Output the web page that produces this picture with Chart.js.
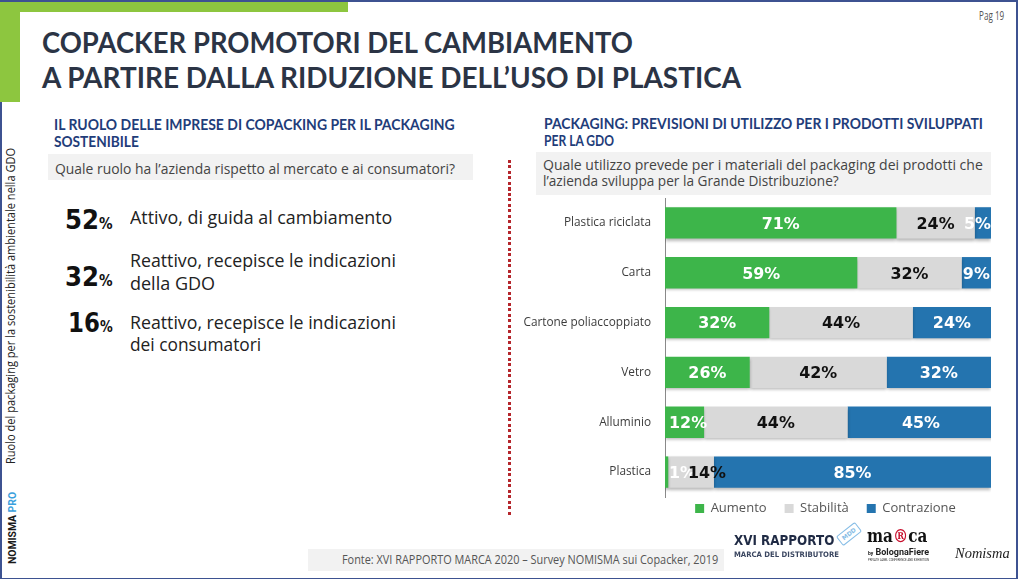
<!DOCTYPE html>
<html><head><meta charset="utf-8">
<script src="https://cdn.jsdelivr.net/npm/chart.js@4.4.1/dist/chart.umd.min.js"></script>
<style>
html,body{margin:0;padding:0;background:#fff;}
#page{position:relative;width:1024px;height:579px;overflow:hidden;background:#fff;}
.t{position:absolute;white-space:nowrap;line-height:1;transform-origin:0 0;}
.box{position:absolute;}
#c{position:absolute;left:512px;top:195px;}
</style></head><body>
<div id="page">
  <div class="box" style="left:0;top:0;width:1014px;height:576px;border:2px solid #3D5291;"></div>
  <div class="box" style="left:0;top:2px;width:348px;height:10px;background:#8DC63F;"></div>
  <div class="box" style="left:0;top:2px;width:20px;height:100px;background:#8DC63F;"></div>
  <div class="box" style="left:48px;top:154px;width:425px;height:26px;background:#F2F2F2;"></div>
  <div class="box" style="left:536px;top:152px;width:455px;height:43px;background:#F2F2F2;"></div>
  <div class="box" style="left:308px;top:549px;width:416px;height:22px;background:#F2F2F2;"></div>
  <div class="box" style="left:508px;top:160px;width:3px;height:355px;background:repeating-linear-gradient(to bottom,#B5262C 0 3px,transparent 3px 5.5px);"></div>
  <div class="box" style="left:837px;top:528px;width:22px;height:10px;border:1px solid #86BDE6;border-radius:2px;transform:rotate(-38deg);font:bold 6px 'DejaVu Sans';color:#86BDE6;text-align:center;line-height:10px;">MDD</div>
  <canvas id="c" width="500" height="343"></canvas>
</div>
<script>
// ---------- data ----------
const categories = ['Plastica riciclata','Carta','Cartone poliaccoppiato','Vetro','Alluminio','Plastica'];
const aumento     = [71, 59, 32, 26, 12, 1];
const stabilita   = [24, 32, 44, 42, 44, 14];
const contrazione = [5, 9, 24, 32, 45, 85];
const seriesNames = ['Aumento','Stabilità','Contrazione'];
const seriesColors = ['#3DB54A','#D9D9D9','#2474AF'];
const rolePct = [52, 32, 16];
const roleLines = [
  ['Attivo, di guida al cambiamento'],
  ['Reattivo, recepisce le indicazioni','della GDO'],
  ['Reattivo, recepisce le indicazioni','dei consumatori']
];

// ---------- text helper ----------
const page = document.getElementById('page');
const BASE = {'Open Sans':0.888,'Lato':0.887,'DejaVu Sans':0.846,'Roboto':0.842,'DejaVu Serif':0.846,'Liberation Serif':0.891};
function txt(html, x, base, size, font, weight, color, width, opts) {
  opts = opts || {};
  const d = document.createElement('div');
  d.className = 't';
  d.innerHTML = html;
  d.style.font = (opts.italic ? 'italic ' : '') + weight + ' ' + size + 'px "' + font + '"';
  d.style.lineHeight = '1';
  d.style.color = color;
  const k = (BASE[font] || 0.88) * size;
  page.appendChild(d);
  if (opts.rot) {
    d.style.left = (base - k) + 'px';
    d.style.top = x + 'px';
  } else {
    d.style.left = x + 'px';
    d.style.top = (base - k) + 'px';
  }
  let sc = 1;
  if (width) sc = width / d.offsetWidth;
  d.style.transform = (opts.rot ? 'rotate(-90deg) ' : '') + 'scaleX(' + sc + ')';
  return d;
}

// ---------- slide texts ----------
txt('Pag 19', 979, 21, 12, 'Open Sans', 400, '#555', 25);
txt('COPACKER PROMOTORI DEL CAMBIAMENTO', 42, 53, 29, 'Lato', 700, '#2B3445', 591);
txt('A PARTIRE DALLA RIDUZIONE DELL’USO DI PLASTICA', 42, 88, 29, 'Lato', 700, '#2B3445', 699);

txt('IL RUOLO DELLE IMPRESE DI COPACKING PER IL PACKAGING', 54, 130.5, 14.5, 'Lato', 700, '#1F3D7A', 401);
txt('SOSTENIBILE', 54, 147.5, 14.5, 'Lato', 700, '#1F3D7A', 85);
txt('Quale ruolo ha l’azienda rispetto al mercato e ai consumatori?', 55, 174, 15, 'Open Sans', 400, '#444', 400);

txt('PACKAGING: PREVISIONI DI UTILIZZO PER I PRODOTTI SVILUPPATI', 544, 130, 14.5, 'Lato', 700, '#1F3D7A', 439);
txt('PER LA GDO', 544, 147, 14.5, 'Lato', 700, '#1F3D7A', 70);
txt('Quale utilizzo prevede per i materiali del packaging dei prodotti che', 543, 170.5, 15, 'Open Sans', 400, '#444', 440);
txt('l’azienda sviluppa per la Grande Distribuzione?', 543, 186, 15, 'Open Sans', 400, '#444', 296);

const numPos = [{b:228.5, x:65, w:48}, {b:285.5, x:65, w:48}, {b:331.5, x:68, w:45}];
const linePos = [[{b:224, w:262}], [{b:267, w:266}, {b:290, w:85}], [{b:329, w:266}, {b:351, w:131}]];
rolePct.forEach((p, i) => {
  txt(p + '<span style="font-size:15px">%</span>', numPos[i].x, numPos[i].b, 27, 'DejaVu Sans', 700, '#111', numPos[i].w);
  roleLines[i].forEach((ln, j) => {
    txt(ln, 130, linePos[i][j].b, 18, 'Open Sans', 400, '#222', linePos[i][j].w);
  });
});

txt('Ruolo del packaging per la sostenibilità ambientale nella GDO', 464, 16, 12, 'Open Sans', 400, '#222', 316, {rot:true});
txt('NOMISMA<span style="color:#3BA1DD"> PRO</span>', 564, 17, 11.5, 'Roboto', 700, '#1a1a1a', 72, {rot:true});

txt('Fonte: XVI RAPPORTO MARCA 2020 – Survey NOMISMA sui Copacker, 2019', 342, 565, 12, 'Open Sans', 400, '#555', 376);
txt('XVI RAPPORTO', 734, 545, 14, 'DejaVu Sans', 700, '#1F2A44', 100);
txt('MARCA DEL DISTRIBUTORE', 734, 557.5, 7.5, 'DejaVu Sans', 700, '#3A4660', 105);
txt('ma<span style="color:#C8102E">®</span>ca', 867, 542, 18, 'DejaVu Serif', 700, '#111', 60);
txt('<span style="font-size:5px">by</span> BolognaFiere', 868, 555.5, 9, 'Roboto', 700, '#222', 61);
txt('PRIVATE LABEL CONFERENCE AND EXHIBITION', 868, 562, 3.5, 'Roboto', 400, '#333', 61);
txt('Nomisma', 955, 559, 15, 'Liberation Serif', 400, '#222', 55, {italic:true});

// ---------- chart ----------
const placeLegend = {
  id: 'placeLegend',
  afterLayout(chart) {
    const l = chart.legend;
    if (l) { l.top -= 13; l.bottom -= 13; l.left = chart.chartArea.left - 15; l.right = chart.chartArea.right + 10; }
  }
};
const barShadow = {
  id: 'barShadow',
  beforeDatasetsDraw(c) { const x = c.ctx; x.save(); x.shadowColor = 'rgba(0,0,0,0.28)'; x.shadowBlur = 3; x.shadowOffsetY = 2; },
  afterDatasetsDraw(c) { c.ctx.restore(); }
};
const valueLabels = {
  id: 'valueLabels',
  afterDatasetsDraw(chart) {
    const {ctx, chartArea} = chart;
    const colors = ['#fff', '#111', '#fff'];
    const SX = 1.06;
    ctx.save();
    ctx.font = 'bold 15px "DejaVu Sans"';
    ctx.textBaseline = 'middle';
    ctx.textAlign = 'left';
    for (let i = 0; i < categories.length; i++) {
      let prevRight = -Infinity;
      chart.data.datasets.forEach((ds, d) => {
        const el = chart.getDatasetMeta(d).data[i];
        const text = ds.data[i] + '%';
        const w = ctx.measureText(text).width * SX;
        const a = Math.min(el.base, el.x), b = Math.max(el.base, el.x);
        let l = (a + b) / 2 - w / 2;
        l = Math.max(l, chartArea.left + 4);
        l = Math.min(l, chartArea.right - w);
        if (l < prevRight - 8) l = prevRight - 8;
        prevRight = l + w;
        ctx.save();
        ctx.translate(l, el.y + 2);
        ctx.scale(SX, 1);
        ctx.fillStyle = colors[d];
        ctx.fillText(text, 0, 0);
        ctx.restore();
      });
    }
    ctx.restore();
  }
};

new Chart(document.getElementById('c'), {
  type: 'bar',
  data: {
    labels: categories,
    datasets: [
      {label: seriesNames[0], data: aumento, backgroundColor: seriesColors[0], clip: 0},
      {label: seriesNames[1], data: stabilita, backgroundColor: seriesColors[1], clip: 0},
      {label: seriesNames[2], data: contrazione, backgroundColor: seriesColors[2], clip: 0}
    ]
  },
  options: {
    indexAxis: 'y',
    responsive: false,
    animation: false,
    layout: {padding: {left: 4, right: 21, top: 3, bottom: 0}},
    datasets: {bar: {categoryPercentage: 1, barPercentage: 0.63, borderWidth: 0}},
    scales: {
      x: {stacked: true, min: 0, max: 100, display: false},
      y: {
        stacked: true,
        grid: {display: false, drawTicks: false},
        border: {display: true, color: '#8a8a8a', width: 1},
        ticks: {padding: 14, color: '#3c3c3c', font: {family: 'Open Sans', size: 11.8}},
        afterFit(s) { s.width = 149; s.paddingTop = 0; s.paddingBottom = 0; }
      }
    },
    plugins: {
      legend: {position: 'bottom', labels: {boxWidth: 9, boxHeight: 9, padding: 18, color: '#555', font: {family: 'Open Sans', size: 13}}},
      tooltip: {enabled: false}
    }
  },
  plugins: [placeLegend, barShadow, valueLabels]
});
</script>
</body></html>
